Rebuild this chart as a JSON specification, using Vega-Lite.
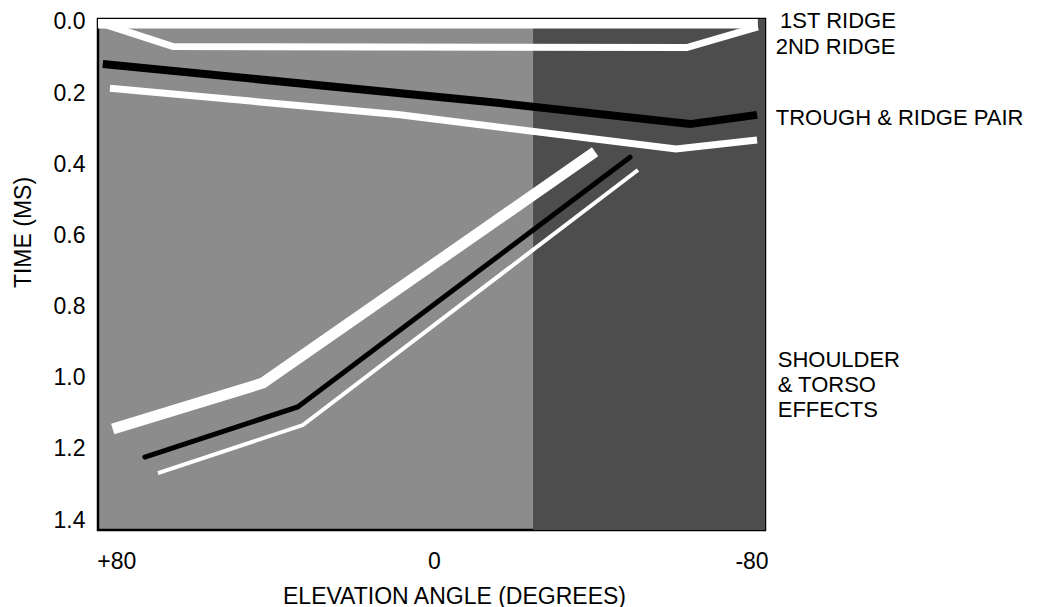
{
  "$schema": "https://vega.github.io/schema/vega-lite/v6.json",
  "width": 667,
  "height": 511,
  "autosize": {"type": "none"},
  "padding": {"left": 98, "top": 19, "right": 282, "bottom": 77},
  "background": "white",
  "config": {
    "view": {"fill": "#8c8c8c", "stroke": "black", "strokeWidth": 2.5},
    "font": "Liberation Sans",
    "axis": {"grid": false, "domain": false, "ticks": false, "tickSize": 0, "labelFontSize": 23, "labelColor": "black", "titleFontSize": 23, "titleFontWeight": "normal", "titleColor": "black", "labelFont": "Liberation Sans", "titleFont": "Liberation Sans"}
  },
  "datasets": {
    "regions": [{"a0": -25, "a1": -90, "t0": -0.1, "t1": 1.6}],
    "lines": [
      {"series": "first", "v": 84.6, "t": 0.004},
      {"series": "first", "v": -81.6, "t": 0.004},
      {"series": "second", "v": 83.9, "t": 0.003},
      {"series": "second", "v": 65.7, "t": 0.069},
      {"series": "second", "v": -63.7, "t": 0.072},
      {"series": "second", "v": -81.6, "t": 0.014},
      {"series": "ridge", "v": 81.6, "t": 0.186},
      {"series": "ridge", "v": 8.6, "t": 0.261},
      {"series": "ridge", "v": -61.0, "t": 0.357},
      {"series": "ridge", "v": -81.4, "t": 0.332},
      {"series": "trough", "v": 83.4, "t": 0.118},
      {"series": "trough", "v": -16.6, "t": 0.228},
      {"series": "trough", "v": -64.5, "t": 0.287},
      {"series": "trough", "v": -81.4, "t": 0.261},
      {"series": "shoulderA", "v": 80.9, "t": 1.144},
      {"series": "shoulderA", "v": 43.1, "t": 1.015},
      {"series": "shoulderA", "v": -40.6, "t": 0.365},
      {"series": "shoulderB", "v": 72.8, "t": 1.223},
      {"series": "shoulderB", "v": 34.3, "t": 1.082},
      {"series": "shoulderB", "v": -49.4, "t": 0.380},
      {"series": "shoulderC", "v": 69.5, "t": 1.268},
      {"series": "shoulderC", "v": 33.0, "t": 1.133},
      {"series": "shoulderC", "v": -51.4, "t": 0.416}
    ],
    "labels": [
      {"text": "1ST RIDGE", "v": -87.2, "t": -0.002},
      {"text": "2ND RIDGE", "v": -86.1, "t": 0.071},
      {"text": "TROUGH & RIDGE PAIR", "v": -86.1, "t": 0.270},
      {"text": "SHOULDER", "v": -86.6, "t": 0.950},
      {"text": "& TORSO", "v": -86.6, "t": 1.021},
      {"text": "EFFECTS", "v": -86.6, "t": 1.091}
    ]
  },
  "layer": [
    {
      "data": {"name": "regions"},
      "mark": {"type": "rect", "fill": "#4d4d4d", "clip": true},
      "encoding": {
        "x": {"field": "a0", "type": "quantitative", "scale": {"domain": [-83.4, 84.6], "reverse": true, "nice": false, "zero": false},
              "axis": {"values": [80, 0, -80], "labelExpr": "datum.value > 0 ? '+' + datum.value : '' + datum.value", "labelPadding": 20, "labelBaseline": "top",
                       "title": "ELEVATION ANGLE (DEGREES)", "titleX": 356, "titleY": 55, "titleBaseline": "top", "titleAlign": "center"}},
        "x2": {"field": "a1"},
        "y": {"field": "t0", "type": "quantitative", "scale": {"domain": [-0.0084, 1.428], "reverse": true, "nice": false, "zero": false},
              "axis": {"values": [0, 0.2, 0.4, 0.6, 0.8, 1.0, 1.2, 1.4], "format": ".1f", "labelPadding": 13, "labelAlign": "right", "labelBaseline": "middle",
                       "title": "TIME (MS)", "titleAngle": -90, "titleX": -75, "titleY": 213, "titleAlign": "center", "titleBaseline": "middle"}},
        "y2": {"field": "t1"}
      }
    },
    {
      "data": {"name": "lines"},
      "transform": [{"filter": "datum.series == 'first'"}],
      "mark": {"type": "line", "color": "white", "strokeWidth": 10, "clip": true},
      "encoding": {"x": {"field": "v", "type": "quantitative"}, "y": {"field": "t", "type": "quantitative"}}
    },
    {
      "data": {"name": "lines"},
      "transform": [{"filter": "datum.series == 'second'"}],
      "mark": {"type": "line", "color": "white", "strokeWidth": 7, "clip": true},
      "encoding": {"x": {"field": "v", "type": "quantitative"}, "y": {"field": "t", "type": "quantitative"}}
    },
    {
      "data": {"name": "lines"},
      "transform": [{"filter": "datum.series == 'ridge'"}],
      "mark": {"type": "line", "color": "white", "strokeWidth": 7, "clip": true},
      "encoding": {"x": {"field": "v", "type": "quantitative"}, "y": {"field": "t", "type": "quantitative"}}
    },
    {
      "data": {"name": "lines"},
      "transform": [{"filter": "datum.series == 'trough'"}],
      "mark": {"type": "line", "color": "black", "strokeWidth": 8, "clip": true},
      "encoding": {"x": {"field": "v", "type": "quantitative"}, "y": {"field": "t", "type": "quantitative"}}
    },
    {
      "data": {"name": "lines"},
      "transform": [{"filter": "datum.series == 'shoulderA'"}],
      "mark": {"type": "line", "color": "white", "strokeWidth": 11, "clip": true},
      "encoding": {"x": {"field": "v", "type": "quantitative"}, "y": {"field": "t", "type": "quantitative"}}
    },
    {
      "data": {"name": "lines"},
      "transform": [{"filter": "datum.series == 'shoulderB'"}],
      "mark": {"type": "line", "color": "black", "strokeWidth": 5, "strokeCap": "round", "clip": true},
      "encoding": {"x": {"field": "v", "type": "quantitative"}, "y": {"field": "t", "type": "quantitative"}}
    },
    {
      "data": {"name": "lines"},
      "transform": [{"filter": "datum.series == 'shoulderC'"}],
      "mark": {"type": "line", "color": "white", "strokeWidth": 4, "clip": true},
      "encoding": {"x": {"field": "v", "type": "quantitative"}, "y": {"field": "t", "type": "quantitative"}}
    },
    {
      "data": {"name": "labels"},
      "mark": {"type": "text", "align": "left", "baseline": "middle", "fontSize": 22, "font": "Liberation Sans", "color": "black"},
      "encoding": {"x": {"field": "v", "type": "quantitative"}, "y": {"field": "t", "type": "quantitative"}, "text": {"field": "text"}}
    }
  ]
}
